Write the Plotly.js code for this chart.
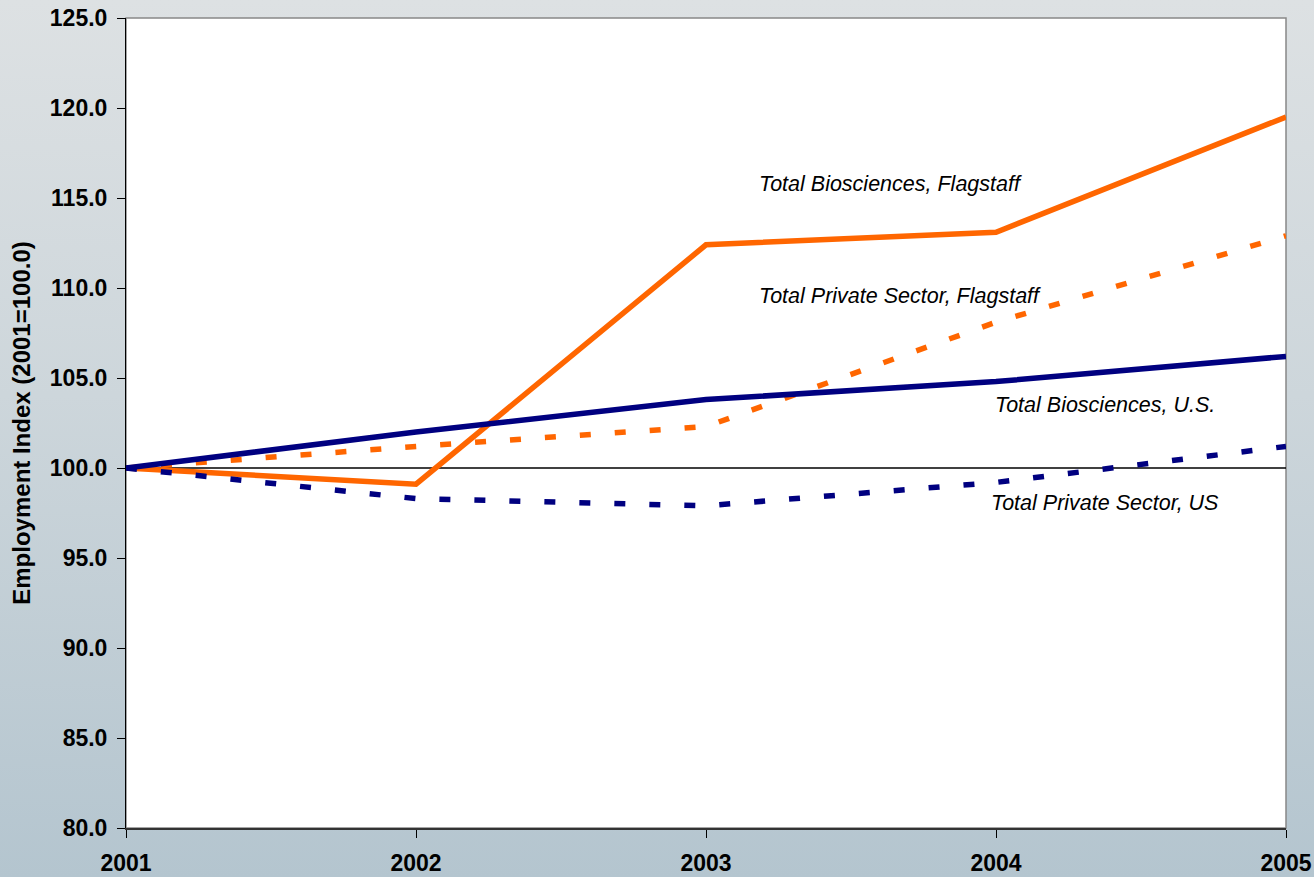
<!DOCTYPE html>
<html>
<head>
<meta charset="utf-8">
<script src="https://cdn.plot.ly/plotly-3.0.1.min.js"></script>
<style>
  html, body { margin: 0; padding: 0; }
  body {
    width: 1314px; height: 877px; overflow: hidden;
    background: linear-gradient(to bottom, #dde1e3 0%, #cdd6db 45%, #b4c5cf 100%);
  }
  #plot { width: 1314px; height: 877px; }
</style>
</head>
<body>
<div id="plot"></div>
<script>
// years on the x axis
var years = [2001, 2002, 2003, 2004, 2005];

// employment index values (2001 = 100.0)
var bioFlagstaff = [100.0, 99.1, 112.4, 113.1, 119.5];
var privFlagstaff = [100.0, 101.2, 102.3, 108.1, 112.9];
var bioUS = [100.0, 102.0, 103.8, 104.8, 106.2];
var privUS = [100.0, 98.3, 97.9, 99.2, 101.2];

var yTicks = [80, 85, 90, 95, 100, 105, 110, 115, 120, 125];

var orange = '#ff6600';
var navy = '#000080';
var font = '"Liberation Sans", Arial, sans-serif';

var traces = [
  {x: years, y: bioFlagstaff, type: 'scatter', mode: 'lines',
   line: {color: orange, width: 5.5}, name: 'Total Biosciences, Flagstaff'},
  {x: years, y: privFlagstaff, type: 'scatter', mode: 'lines',
   line: {color: orange, width: 5.5, dash: '11px,24px'}, name: 'Total Private Sector, Flagstaff'},
  {x: years, y: bioUS, type: 'scatter', mode: 'lines',
   line: {color: navy, width: 5.5}, name: 'Total Biosciences, U.S.'},
  {x: years, y: privUS, type: 'scatter', mode: 'lines',
   line: {color: navy, width: 5.5, dash: '11px,24px'}, name: 'Total Private Sector, US'}
];

// series labels placed beside the lines
function label(txt, x, y) {
  return {text: txt, x: x, y: y, xref: 'x', yref: 'y', xanchor: 'left', yanchor: 'middle',
          showarrow: false, font: {family: font, size: 21.5, color: '#000', style: 'italic'}};
}

var layout = {
  width: 1314, height: 877,
  margin: {l: 126, r: 28, t: 18, b: 49},
  paper_bgcolor: 'rgba(0,0,0,0)',
  plot_bgcolor: '#ffffff',
  showlegend: false,
  font: {family: font, color: '#000'},
  xaxis: {
    range: [2001, 2005], tickvals: years, ticktext: years.map(String),
    showgrid: false, zeroline: false,
    showline: true, linecolor: '#333', linewidth: 2,
    ticks: 'outside', ticklen: 8, tickcolor: '#000', tickwidth: 1,
    ticklabelstandoff: 5,
    tickfont: {family: font, size: 23, weight: 'bold', color: '#000'}
  },
  yaxis: {
    range: [80, 125], tickvals: yTicks, ticktext: yTicks.map(function (v) { return v.toFixed(1); }),
    showgrid: false, zeroline: false,
    showline: true, linecolor: '#000', linewidth: 1,
    ticks: 'outside', ticklen: 8, tickcolor: '#000', tickwidth: 1,
    ticklabelstandoff: 5,
    tickfont: {family: font, size: 23, weight: 'bold', color: '#000'},
    title: {text: 'Employment Index (2001=100.0)', standoff: 12,
            font: {family: font, size: 24, weight: 'bold', color: '#000'}}
  },
  shapes: [
    {type: 'rect', xref: 'paper', yref: 'paper', x0: 0, x1: 1, y0: 0, y1: 1,
     line: {color: '#888', width: 1.5}, layer: 'below'},
    {type: 'line', xref: 'paper', yref: 'y', x0: 0, x1: 1, y0: 100, y1: 100,
     line: {color: '#000', width: 1.5}, layer: 'below'}
  ],
  annotations: [
    label('Total Biosciences, Flagstaff', 2003.175, 115.8),
    label('Total Private Sector, Flagstaff', 2003.175, 109.55),
    label('Total Biosciences, U.S.', 2003.99, 103.5),
    label('Total Private Sector, US', 2003.975, 98.05)
  ]
};

Plotly.newPlot('plot', traces, layout, {displayModeBar: false});
</script>
</body>
</html>
